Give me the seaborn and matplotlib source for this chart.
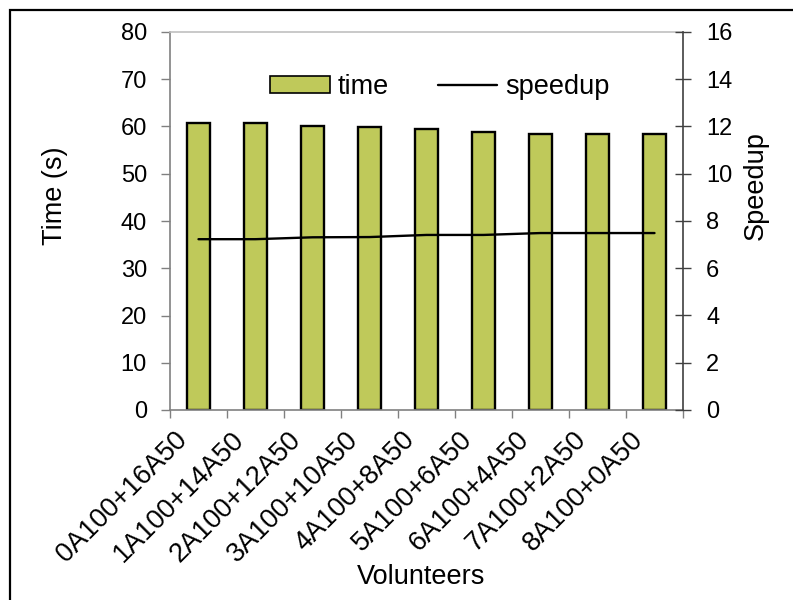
import numpy as np
import pandas as pd
import seaborn as sns
import matplotlib.pyplot as plt
from matplotlib.patches import Patch, Rectangle
from matplotlib.lines import Line2D
from matplotlib.ticker import FixedLocator

volunteers = ["0A100+16A50", "1A100+14A50", "2A100+12A50", "3A100+10A50",
              "4A100+8A50", "5A100+6A50", "6A100+4A50", "7A100+2A50", "8A100+0A50"]
time_s = [60.7, 60.7, 60.2, 59.9, 59.5, 58.8, 58.5, 58.5, 58.5]
speedup = [7.23, 7.23, 7.31, 7.32, 7.41, 7.41, 7.49, 7.49, 7.49]

sns.set_style("white")
plt.rcParams["font.family"] = ["Liberation Sans", "DejaVu Sans"]
plt.rcParams["font.size"] = 19.5
plt.rcParams["text.color"] = "black"
plt.rcParams["axes.labelcolor"] = "black"
plt.rcParams["xtick.labelcolor"] = "black"
plt.rcParams["ytick.labelcolor"] = "black"

df = pd.DataFrame({"volunteers": volunteers, "time": time_s, "speedup": speedup})
df["pos"] = np.arange(len(df))

bar_color = "#bfc95a"
px = 0.72  # points per pixel at dpi 100

fig = plt.figure(figsize=(7.93, 6), dpi=100)
ax = fig.add_axes([170 / 793, 190 / 600, 513 / 793, 378 / 600])

sns.barplot(data=df, x="volunteers", y="time", color=bar_color, saturation=1,
            edgecolor="black", linewidth=1.7, width=0.42, ax=ax)

ax2 = ax.twinx()
sns.lineplot(data=df, x="pos", y="speedup", color="black", linewidth=1.7, ax=ax2)

ax.set_xlim(-0.5, 8.5)
ax.set_ylim(0, 80)
ax2.set_ylim(0, 16)
ax.set_yticks(np.arange(0, 81, 10))
ax2.set_yticks(np.arange(0, 17, 2))

# category labels sit near the left boundary tick of each bar (Excel style)
ax.set_xticks(np.arange(len(volunteers)) - 0.43)
ax.set_xticklabels(volunteers, rotation=45, ha="right", va="top", rotation_mode="anchor",
                   fontsize=19.5)
ax.xaxis.set_minor_locator(FixedLocator(np.arange(-0.5, 9, 1)))
ax.tick_params(axis="x", which="major", length=0, pad=12)
ax.tick_params(axis="x", which="minor", bottom=True, length=8 * px, color="#808080",
               direction="out", width=1)
ax.tick_params(axis="y", left=True, length=9 * px, color="#808080", direction="out",
               pad=14 * px, width=1, labelsize=17)
ax2.tick_params(axis="y", right=True, length=16 * px, color="#404040", direction="inout",
                pad=15 * px, width=1, labelsize=17)

for s in ["left", "bottom"]:
    ax.spines[s].set_color("#808080")
ax.spines["top"].set_color("#c0c0c0")
ax.spines["right"].set_visible(False)
for s in ["left", "top", "bottom"]:
    ax2.spines[s].set_visible(False)
ax2.spines["right"].set_color("#404040")
for sp in list(ax.spines.values()) + list(ax2.spines.values()):
    sp.set_linewidth(1.2)

ax.set_xlabel("Volunteers")
ax.xaxis.label.set_va("center")
ax.xaxis.set_label_coords((421 - 170) / 513, -(577 - 410) / 378)
ax.set_ylabel("Time (s)")
ax.yaxis.label.set_va("center")
ax.yaxis.set_label_coords((55 - 170) / 513, 1 - (196 - 32) / 378)
ax2.set_ylabel("Speedup")
ax2.yaxis.label.set_va("center")
ax2.yaxis.set_label_coords((756 - 170) / 513, 1 - (186 - 32) / 378)

handles = [Patch(facecolor=bar_color, edgecolor="black", linewidth=1.2),
           Line2D([], [], color="black", linewidth=1.7)]
ax2.legend(handles, ["time", "speedup"], loc="center left",
           bbox_to_anchor=(270 / 793, 1 - 87 / 600), bbox_transform=fig.transFigure,
           ncol=2, frameon=False, handlelength=2.2, handleheight=0.63,
           handletextpad=0.3, columnspacing=1.8, borderpad=0, borderaxespad=0)

fig.add_artist(Rectangle((10 / 793, -0.05), 1.0, 1.05 - 10 / 600, fill=False,
                         edgecolor="black", linewidth=1.6, transform=fig.transFigure))

fig.savefig("out.png", dpi=100)
